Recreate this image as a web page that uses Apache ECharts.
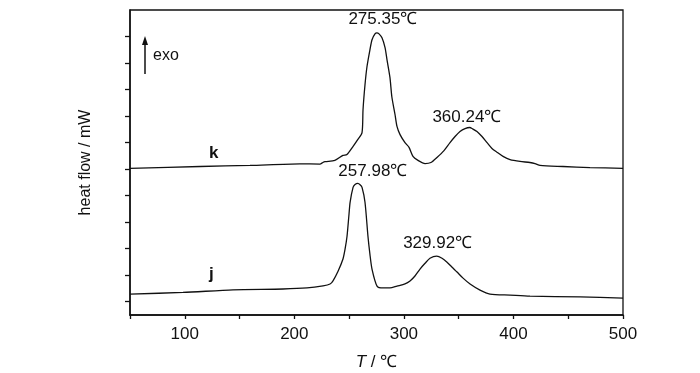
<!DOCTYPE html>
<html>
<head>
<meta charset="utf-8">
<script src="https://cdn.jsdelivr.net/npm/echarts@6/dist/echarts.min.js"></script>
<style>html,body{margin:0;padding:0;background:#fff}#c{width:700px;height:373px}</style>
</head>
<body>
<div id="c"></div>
<script>
// Temperature ticks
var xTicks = [100, 200, 300, 400, 500];
// Sample k (upper curve): [T, heat flow]
var kT = [50,114,159.5,205,223.4,226,228,237,244.4,248,253.5,258,261.8,262.7,264.5,266.3,269,270.9,273.6,275.35,277.3,280,282.8,284.6,287.3,289,291.9,293.7,296.5,301,304.7,308.3,312.9,319.3,324.7,330.2,336.6,342.1,346.7,351.2,355.8,360.24,362.2,366.7,371.3,375.9,380.4,384.9,390.5,396.9,406,415,419.7,424.3,445.2,469.9,500];
var kV = [5.53,5.60,5.64,5.70,5.69,5.75,5.78,5.83,6.02,6.05,6.35,6.62,6.88,7.74,8.68,9.36,10.0,10.38,10.6,10.64,10.6,10.45,10.08,9.62,8.95,8.23,7.56,7.11,6.80,6.50,6.32,5.98,5.83,5.71,5.75,5.94,6.20,6.50,6.73,6.92,7.03,7.07,7.03,6.92,6.73,6.50,6.28,6.14,5.98,5.86,5.79,5.75,5.71,5.64,5.60,5.56,5.53];
// Sample j (lower curve)
var jT = [50,98.4,144,189.7,211.6,226.2,232.6,235.3,239.9,244.4,246.3,248.1,249.9,250.9,253.6,255.4,257.98,260,261.8,264.5,267.2,269,270.9,275.5,281,287.3,293.7,301,305.6,310.1,314.7,319.3,323.8,329.92,334.8,339.4,344,348.5,354,360.4,369.5,378.6,396.9,415.1,460.8,500];
var jV = [0.79,0.85,0.95,0.98,1.02,1.10,1.17,1.29,1.65,2.11,2.48,2.97,3.80,4.25,4.81,4.92,4.96,4.91,4.81,4.25,2.97,2.29,1.73,1.09,1.02,1.02,1.09,1.17,1.28,1.47,1.73,1.95,2.14,2.22,2.14,1.99,1.80,1.62,1.39,1.17,0.94,0.79,0.75,0.71,0.68,0.64];
// Peaks
var kPeakT = [275.35, 360.24];
var kPeakV = [10.64, 7.07];
var jPeakT = [257.98, 329.92];
var jPeakV = [4.96, 2.22];
var yTickValues = [0.5,1.5,2.5,3.5,4.5,5.5,6.5,7.5,8.5,9.5,10.5];
var seriesNames = ['k', 'j'];

function pairs(a, b) { return a.map(function (t, i) { return [t, b[i]]; }); }
var FONT = '"Liberation Sans", Arial, sans-serif';
var peakOffsets = { k: [[6, -13], [-3, -10]], j: [[15, -12], [1, -13]] };
function peakMarks(name, T, V) {
  return T.map(function (t, i) {
    return {
      coord: [t, V[i]], value: t,
      label: { offset: peakOffsets[name][i] }
    };
  });
}
var peakLabel = { show: true, position: 'inside', fontFamily: FONT, fontSize: 17, color: '#111', formatter: function (p) { return p.value.toFixed(2) + '℃'; } };

var chart = echarts.init(document.getElementById('c'), null, { renderer: 'canvas' });
chart.setOption({
  backgroundColor: '#fff',
  animation: false,
  grid: { left: 130, right: 77, top: 10, bottom: 58, outerBoundsMode: 'none', containLabel: false, show: true, borderColor: '#111', borderWidth: 1.3, backgroundColor: 'transparent' },
  xAxis: {
    type: 'value', min: 50, max: 500, interval: 50,
    name: '{i|T} / ℃', nameLocation: 'middle', nameGap: 39,
    nameTextStyle: { fontFamily: FONT, fontSize: 17, color: '#111', rich: { i: { fontStyle: 'italic', fontFamily: FONT, fontSize: 17, color: '#111' } } },
    axisLine: { lineStyle: { color: '#111', width: 1.5 } },
    axisTick: { show: true, inside: false, length: 4, lineStyle: { color: '#111', width: 1.3 } },
    axisLabel: { fontFamily: FONT, fontSize: 17, color: '#111', margin: 11, formatter: function (v) { return xTicks.indexOf(v) >= 0 ? String(v) : ''; } },
    splitLine: { show: false }
  },
  yAxis: {
    type: 'value', min: 0, max: 11.5,
    name: 'heat flow / mW', nameLocation: 'middle', nameGap: 36, nameRotate: 90,
    nameTextStyle: { fontFamily: FONT, fontSize: 16, color: '#111' },
    axisLine: { show: true, lineStyle: { color: '#111', width: 1.5 } },
    axisTick: { show: true, length: 5, lineStyle: { color: '#111', width: 1.3 }, customValues: yTickValues },
    axisLabel: { show: false },
    splitLine: { show: false }
  },
  series: [
    {
      name: seriesNames[0], type: 'line', data: pairs(kT, kV), smooth: 0.25, showSymbol: false,
      lineStyle: { color: '#111', width: 1.3 },
      markPoint: { symbol: 'circle', symbolSize: 1, itemStyle: { color: 'transparent' }, label: peakLabel, data: peakMarks('k', kPeakT, kPeakV) }
    },
    {
      name: seriesNames[1], type: 'line', data: pairs(jT, jV), smooth: 0.25, showSymbol: false,
      lineStyle: { color: '#111', width: 1.3 },
      markPoint: { symbol: 'circle', symbolSize: 1, itemStyle: { color: 'transparent' }, label: peakLabel, data: peakMarks('j', jPeakT, jPeakV) }
    }
  ],
  graphic: [
    { type: 'text', left: 209, top: 145, style: { text: 'k', font: 'bold 17px ' + FONT, fill: '#111' } },
    { type: 'text', left: 209, top: 266, style: { text: 'j', font: 'bold 17px ' + FONT, fill: '#111' } },
    { type: 'line', shape: { x1: 145, y1: 74, x2: 145, y2: 42 }, style: { stroke: '#111', lineWidth: 1.5 } },
    { type: 'polygon', shape: { points: [[145, 36], [142, 45], [148, 45]] }, style: { fill: '#111' } },
    { type: 'text', left: 153, top: 48, style: { text: 'exo', font: '16px ' + FONT, fill: '#111' } }
  ]
});
</script>
</body>
</html>
